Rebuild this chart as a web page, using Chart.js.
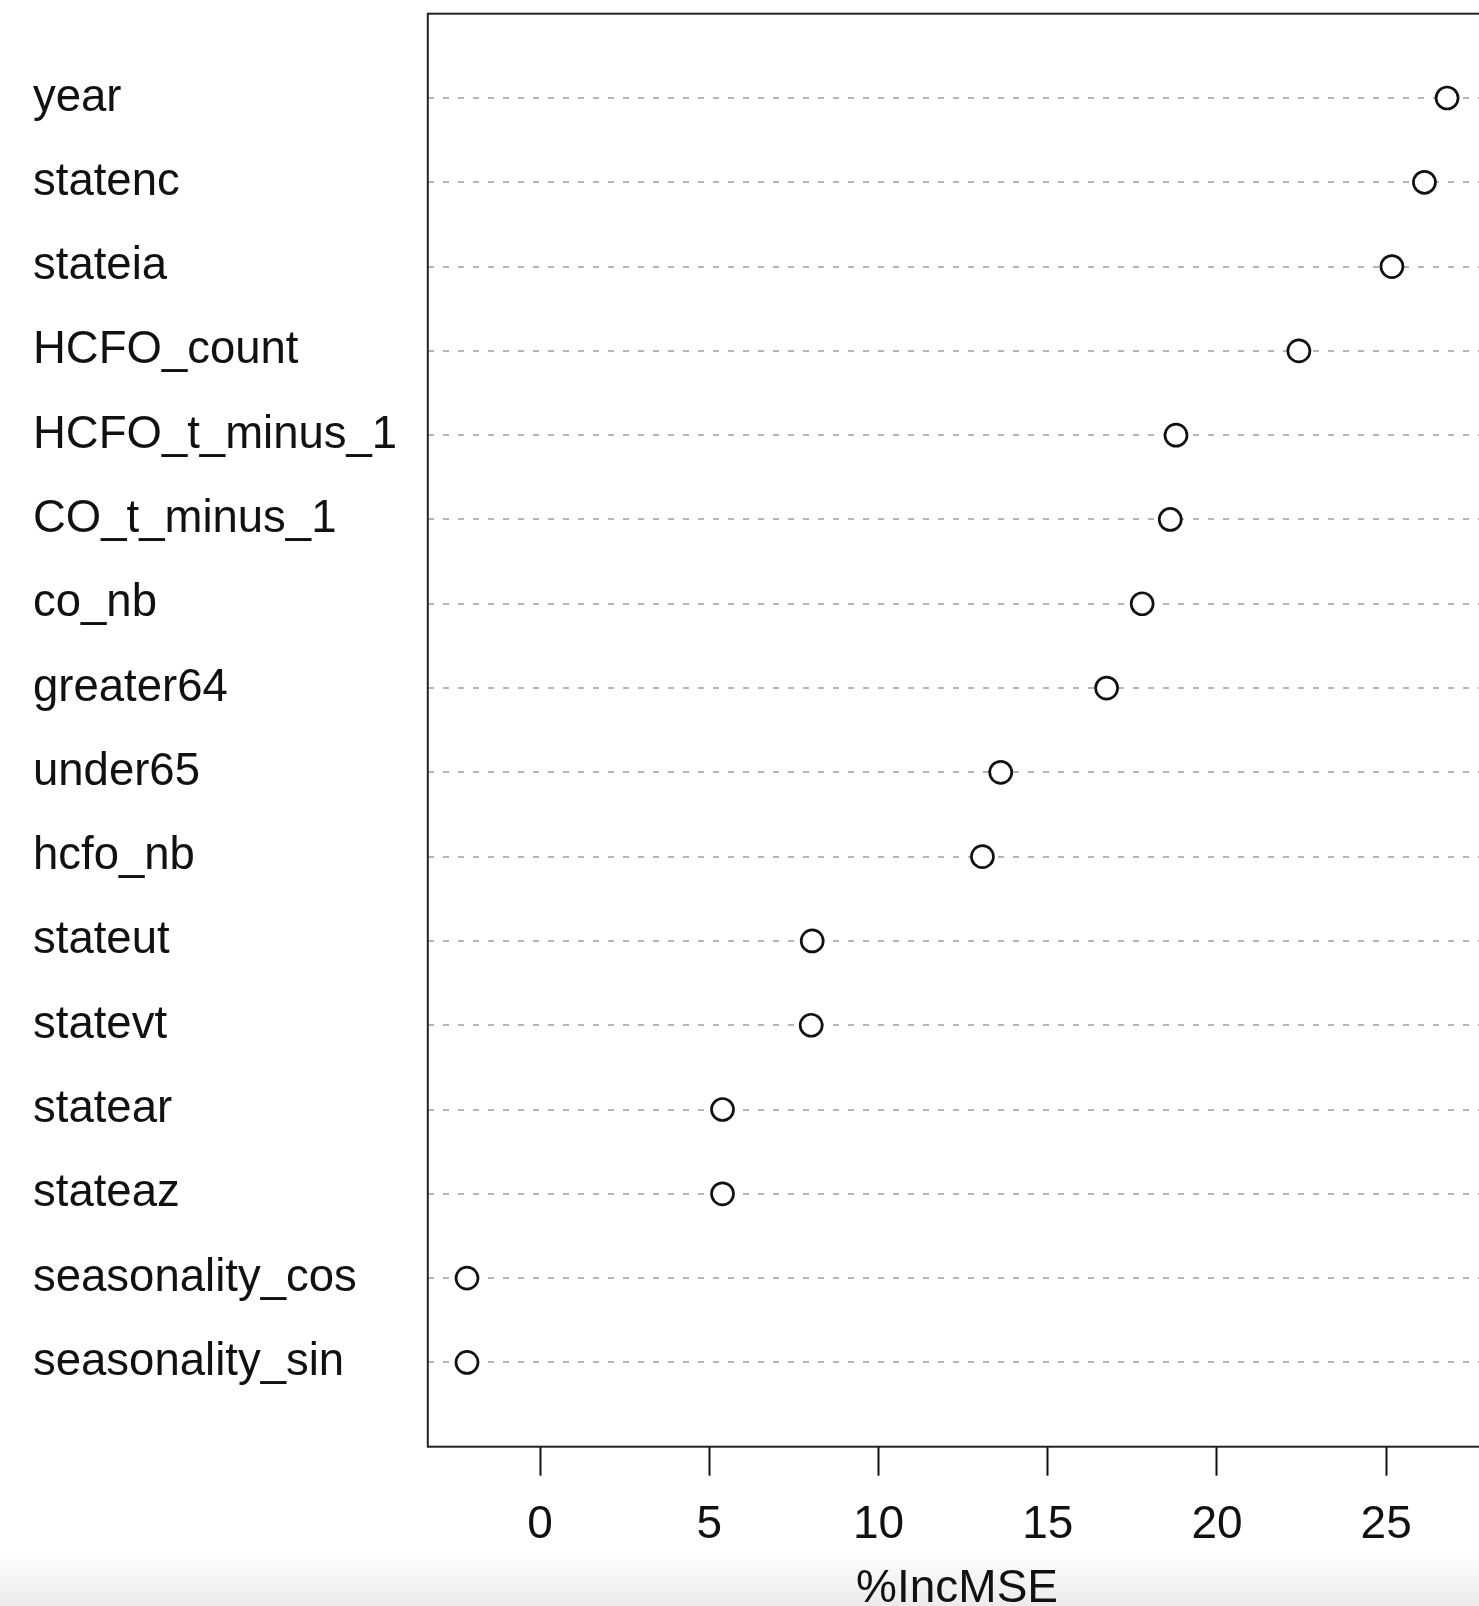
<!DOCTYPE html>
<html>
<head>
<meta charset="utf-8">
<script src="https://cdn.jsdelivr.net/npm/chart.js@4.4.1/dist/chart.umd.min.js"></script>
<style>
  html {
    height: 1606px;
    background: linear-gradient(to bottom, #ffffff 0px, #ffffff 1550px, #ebebeb 1606px);
  }
  html, body { margin: 0; padding: 0; overflow: hidden; }
  #wrap { width: 1500px; height: 1617px; }
</style>
</head>
<body>
<div id="wrap"><canvas id="impChart" width="1500" height="1617"></canvas></div>
<script>
// variable importance (%IncMSE), top to bottom as in the plot
const variables = [
  "year", "statenc", "stateia", "HCFO_count", "HCFO_t_minus_1",
  "CO_t_minus_1", "co_nb", "greater64", "under65", "hcfo_nb",
  "stateut", "statevt", "statear", "stateaz",
  "seasonality_cos", "seasonality_sin"
];
const incMSE = [
  26.80, 26.13, 25.17, 22.42, 18.79,
  18.62, 17.79, 16.74, 13.61, 13.07,
  8.04, 8.01, 5.39, 5.39,
  -2.16, -2.16
];
const xTicks = [0, 5, 10, 15, 20, 25];
const xTitle = "%IncMSE";

const FONT = "'Liberation Sans', Arial, Helvetica, sans-serif";
const INK = "#111111";
const H = 1617;

// R-style 4% extension of the data range
const lo = Math.min(...incMSE), hi = Math.max(...incMSE);
const pad = (hi - lo) * 0.04;

// plot box like R's box()
const boxPlugin = {
  id: "box",
  afterDraw(chart) {
    const { ctx, chartArea: a } = chart;
    ctx.save();
    ctx.strokeStyle = "#222";
    ctx.lineWidth = 2;
    ctx.strokeRect(a.left, a.top, a.right - a.left, a.bottom - a.top);
    ctx.restore();
  }
};

const n = variables.length;

new Chart(document.getElementById("impChart").getContext("2d"), {
  type: "scatter",
  data: {
    datasets: [{
      label: xTitle,
      data: incMSE.map((v, i) => ({ x: v, y: n - i })),
      pointStyle: "circle",
      pointRadius: 11,
      pointBorderWidth: 2.7,
      borderColor: INK,
      backgroundColor: "#ffffff",
      clip: false
    }]
  },
  options: {
    responsive: false,
    devicePixelRatio: 1,
    animation: false,
    layout: { padding: { left: 33, top: 11, right: 12.4, bottom: 0 } },
    plugins: {
      legend: { display: false },
      tooltip: { enabled: false }
    },
    scales: {
      x: {
        type: "linear",
        min: lo - pad,
        max: hi + pad,
        afterBuildTicks: scale => { scale.ticks = xTicks.map(v => ({ value: v })); },
        afterFit: scale => { scale.height = H - 1446.7; },
        border: { display: false },
        grid: {
          drawOnChartArea: false,
          drawTicks: true,
          tickLength: 29,
          tickWidth: 2,
          tickColor: INK,
          color: INK
        },
        ticks: {
          color: INK,
          padding: 22,
          maxRotation: 0,
          font: { family: FONT, size: 46 }
        },
        title: {
          display: true,
          text: xTitle,
          color: INK,
          padding: { top: 0, bottom: 0 },
          font: { family: FONT, size: 46, lineHeight: 1.2 }
        }
      },
      y: {
        type: "linear",
        position: "left",
        min: 0,
        max: n + 1,
        afterBuildTicks: scale => {
          scale.ticks = variables.map((_, i) => ({ value: n - i }));
        },
        afterFit: scale => { scale.width = 427.8 - 33; },
        border: { display: false, dash: [6, 9] },
        grid: {
          drawTicks: false,
          color: "#b5b5b5",
          lineWidth: 2
        },
        ticks: {
          color: INK,
          crossAlign: "far",
          padding: 0,
          font: { family: FONT, size: 45.5, lineHeight: 0.4 },
          callback: value => variables[n - value]
        }
      }
    }
  },
  plugins: [boxPlugin]
});
</script>
</body>
</html>
